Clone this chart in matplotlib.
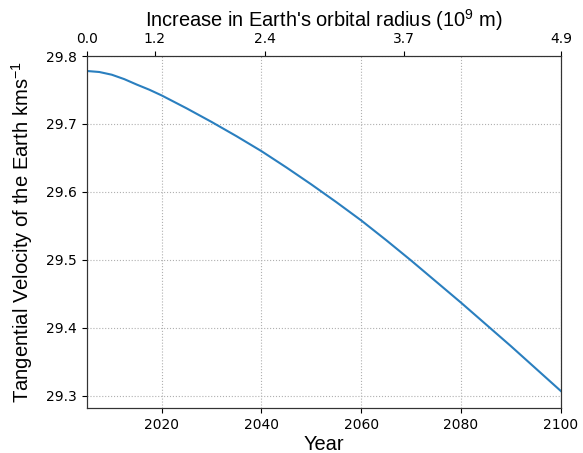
import matplotlib
matplotlib.use("Agg")
import matplotlib.pyplot as plt

years = [2005, 2007.5, 2010, 2012.5, 2015, 2017.5, 2020, 2025, 2030, 2035,
         2040, 2045, 2050, 2055, 2060, 2065, 2070, 2075, 2080, 2085, 2090,
         2095, 2100]
velocity = [29.778, 29.7765, 29.7725, 29.766, 29.758, 29.7505, 29.742,
            29.723, 29.703, 29.682, 29.660, 29.636, 29.611, 29.585, 29.558,
            29.529, 29.499, 29.468, 29.437, 29.405, 29.373, 29.340, 29.307]

top_tick_years = [2005, 2018.6, 2040.7, 2068.5, 2100]
top_tick_labels = ["0.0", "1.2", "2.4", "3.7", "4.9"]

plt.rcParams['mathtext.default'] = 'regular'
label_font = ['Liberation Sans', 'DejaVu Sans']

fig = plt.figure(figsize=(5.83, 4.53), dpi=100)
ax = fig.add_axes([0.149, 0.0993, 0.813, 0.777])
ax.plot(years, velocity, color='#2a7fbf', lw=1.5)
ax.set_xlim(2005, 2100)
ax.set_ylim(29.282, 29.8)
ax.set_xticks([2020, 2040, 2060, 2080, 2100])
ax.set_yticks([29.3, 29.4, 29.5, 29.6, 29.7, 29.8])
ax.grid(True, linestyle=':', color='#b0b0b0', lw=0.8)
ax.set_xlabel('Year', fontsize=14.4, family=label_font, labelpad=2)
ax.set_ylabel('Tangential Velocity of the Earth kms$^{-1}$', fontsize=14.6,
              family=label_font, labelpad=8)
for s in ax.spines.values():
    s.set_color('#333333')

ax2 = ax.twiny()
ax2.set_xlim(ax.get_xlim())
ax2.set_xticks(top_tick_years)
ax2.set_xticklabels(top_tick_labels)
ax2.set_xlabel("Increase in Earth's orbital radius (10$^9$ m)", fontsize=14.4,
               family=label_font)
for s in ax2.spines.values():
    s.set_color('#333333')

fig.savefig('out.png', dpi=100)
